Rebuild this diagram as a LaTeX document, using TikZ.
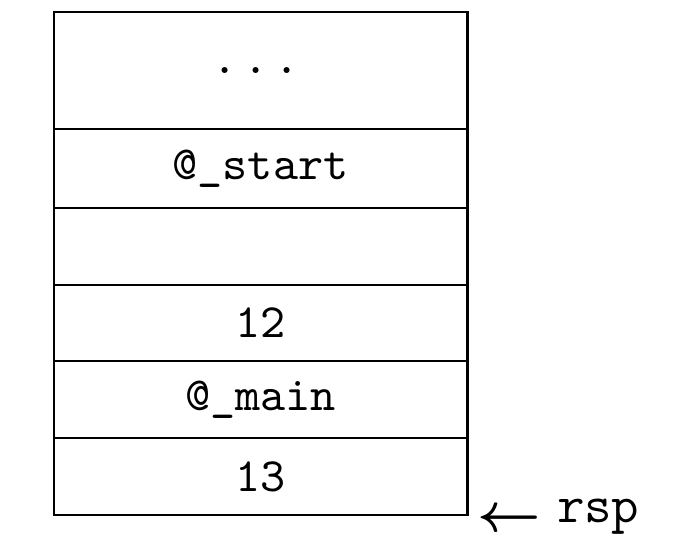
\documentclass[tikz,border=0pt]{standalone}
\usepackage{amsmath}
\begin{document}
\begin{tikzpicture}[x=0.2174pt,y=-0.2174pt,
  cell/.style={draw,line width=0.65pt,minimum width=413*0.2174pt,inner sep=0pt,font=\fontsize{10.4}{12}\selectfont\ttfamily},
]
\useasboundingbox (0,0) rectangle (696,546);
\node[cell,minimum height=117*0.2174pt] (c1) at (260.5,70.5) {.\kern1.3pt.\kern1.3pt.\kern2pt};
\node[cell,minimum height=79*0.2174pt] (c2) at (260.5,168.5) {@\_start};
\node[cell,minimum height=77*0.2174pt] (c3) at (260.5,246.5) {};
\node[cell,minimum height=76*0.2174pt] (c4) at (260.5,323) {12};
\node[cell,minimum height=77*0.2174pt] (c5) at (260.5,399.5) {@\_main};
\node[cell,minimum height=77*0.2174pt] (c6) at (260.5,476.5) {13};
\node[anchor=base west,inner sep=0pt,font=\fontsize{11.6}{14}\selectfont] (rsp) at (477,522) {\raisebox{-2pt}{$\boldsymbol{\leftarrow}$}\hspace{3.4pt}\texttt{rsp}};
\end{tikzpicture}
\end{document}
